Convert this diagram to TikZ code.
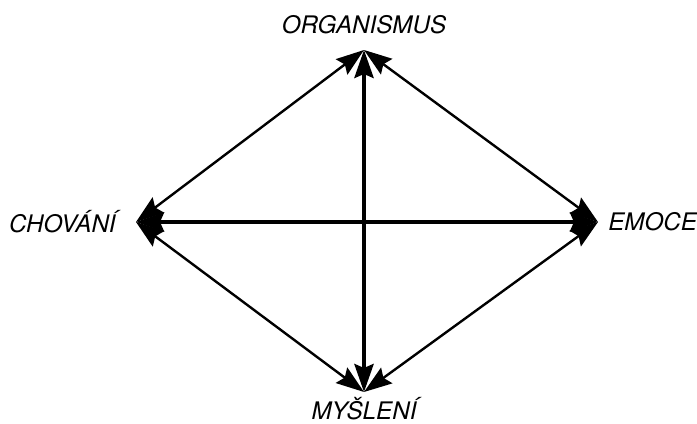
\documentclass[tikz,border=0pt]{standalone}
\usepackage{fontspec}
\setmainfont{TeX Gyre Heros}
\usetikzlibrary{positioning,arrows.meta}

\begin{document}
\begin{tikzpicture}[
        label/.style={font=\fontsize{17.2}{20}\selectfont\itshape, inner sep=0pt},
        arrow/.style={{Stealth[length=0.7cm, width=0.48cm, inset=0.1cm]}-{Stealth[length=0.7cm, width=0.48cm, inset=0.1cm]}, line width=1.7pt},
        mainarrow/.style={arrow, line width=2.6pt},
      ]
      \useasboundingbox (0, 0) rectangle (17.425, 10.6);
      % Arrow tips
      \coordinate (org) at (9.1, 9.35);
      \coordinate (mys) at (9.1, 0.8);
      \coordinate (cho) at (3.4, 5.05);
      \coordinate (emo) at (14.95, 5.05);
      % Labels
      \node [label, anchor=base] (lorg) at (9.1, 9.75) {ORGANISMUS};
      \node [label, anchor=base] (lmys) at (9.1, 0.11) {MYŠLENÍ};
      \node [label, left=0.5cm of cho] (lcho) {CHOVÁNÍ};
      \node [label, right=0.25cm of emo] (lemo) {EMOCE};
      % Connections
      \draw [mainarrow] (org) -- (mys);
      \draw [mainarrow] (cho) -- (emo);
      \draw [arrow] (cho) -- (org);
      \draw [arrow] (org) -- (emo);
      \draw [arrow] (emo) -- (mys);
      \draw [arrow] (mys) -- (cho);
    \end{tikzpicture}
\end{document}
